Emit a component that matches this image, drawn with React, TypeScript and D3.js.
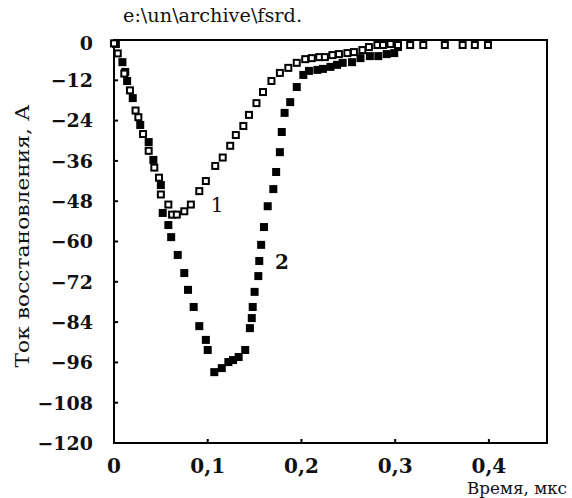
import React from 'react';
import * as d3 from 'd3';

// кривая 1 — открытые квадраты (время, мкс / ток, А)
const curve1Time = [0, 0.004, 0.011, 0.017, 0.023, 0.026, 0.031, 0.037, 0.043, 0.048, 0.05, 0.058, 0.062, 0.067, 0.075, 0.082, 0.091, 0.098, 0.108, 0.116, 0.124, 0.13, 0.138, 0.144, 0.152, 0.159, 0.168, 0.177, 0.186, 0.195, 0.204, 0.211, 0.219, 0.225, 0.233, 0.24, 0.249, 0.256, 0.265, 0.272, 0.281, 0.287, 0.295, 0.303, 0.316, 0.33, 0.353, 0.372, 0.385, 0.399];
const curve1Current = [-1, -4, -10, -15, -21, -23, -28, -33, -38, -41, -46, -49, -52, -52, -51, -49, -45, -42, -37.5, -35, -31.5, -28.3, -25.6, -22.3, -18.8, -15.5, -12.2, -9.8, -8.3, -6.8, -5.7, -5.4, -5.1, -5.1, -4.5, -4.2, -3.9, -3.6, -3, -2.1, -1.5, -1.5, -1.2, -1.5, -1.5, -1.5, -1.5, -1.5, -1.5, -1.5];

// кривая 2 — заполненные квадраты
const curve2Time = [0.002, 0.009, 0.012, 0.014, 0.02, 0.028, 0.037, 0.042, 0.05, 0.052, 0.058, 0.061, 0.068, 0.075, 0.079, 0.085, 0.091, 0.098, 0.1, 0.107, 0.115, 0.122, 0.127, 0.133, 0.14, 0.145, 0.147, 0.148, 0.15, 0.154, 0.155, 0.157, 0.16, 0.164, 0.17, 0.173, 0.177, 0.179, 0.182, 0.188, 0.195, 0.202, 0.208, 0.217, 0.223, 0.231, 0.238, 0.244, 0.254, 0.263, 0.273, 0.282, 0.291, 0.299, 0.303];
const curve2Current = [-1.2, -6.6, -9.5, -12.2, -17.3, -25.3, -30.4, -35.7, -43.2, -51.5, -55.1, -58.7, -64, -69.4, -74.4, -79.5, -85.2, -89.3, -92.3, -98.9, -97.7, -95.9, -95.3, -94.4, -92.3, -85.8, -82.8, -79.5, -75, -70.3, -65.8, -61, -55.7, -49.5, -44.4, -39.3, -33.4, -27.4, -21.7, -18.5, -14, -10.4, -9.2, -8.9, -8.6, -8.0, -7.4, -6.8, -6.6, -5.4, -4.8, -4.8, -4.2, -3.9, -2.1];

const xTicks = [0, 0.1, 0.2, 0.3, 0.4];
const yTicks = [0, -12, -24, -36, -48, -60, -72, -84, -96, -108, -120];

const title = 'e:\\un\\archive\\fsrd.';
const xTitle = 'Время, мкс';
const yTitle = 'Ток восстановления, А';

const width = 572;
const height = 498;
const plot = { left: 114, right: 547, top: 40, bottom: 443 };

const serif = '"DejaVu Serif", "Liberation Serif", serif';

const App = () => {
  const x = d3.scaleLinear().domain([0, 0.462]).range([plot.left, plot.right]);
  const y = d3.scaleLinear().domain([-120, 0]).range([plot.bottom, plot.top]);

  const s = 8; // размер маркера
  const pts1 = curve1Time.map((t, i) => [x(t), y(curve1Current[i])]);
  const pts2 = curve2Time.map((t, i) => [x(t), y(curve2Current[i])]);

  return (
    <svg width={width} height={height} style={{ position: 'absolute', left: 0, top: 0, background: '#fff' }}>
      <rect x={0} y={0} width={width} height={height} fill="#fff" />
      <text x={123} y={22} fontFamily={serif} fontSize={18} fill="#111" textLength={179}
        lengthAdjust="spacingAndGlyphs">{title}</text>

      {/* рамка */}
      <rect x={plot.left} y={plot.top} width={plot.right - plot.left} height={plot.bottom - plot.top}
        fill="none" stroke="#000" strokeWidth={2} />

      {/* деления оси Y */}
      {yTicks.map(v => (
        <g key={'y' + v}>
          <line x1={plot.left} x2={plot.left + 4} y1={y(v)} y2={y(v)} stroke="#000" strokeWidth={2} />
          <text x={93} y={y(v) + (v === 0 ? 3 : 0)} dy="0.36em" textAnchor="end" fontFamily={serif} fontWeight="bold"
            fontSize={19} fill="#111">{v === 0 ? '0' : '\u2212' + Math.abs(v)}</text>
        </g>
      ))}

      {/* деления оси X */}
      {xTicks.map(v => (
        <g key={'x' + v}>
          <line x1={x(v)} x2={x(v)} y1={plot.bottom} y2={plot.bottom - 4} stroke="#000" strokeWidth={2} />
          <text x={x(v)} y={473} textAnchor="middle" fontFamily={serif} fontWeight="bold"
            fontSize={20} fill="#111">{v === 0 ? '0' : String(v).replace('.', ',')}</text>
        </g>
      ))}

      <text x={567} y={494} textAnchor="end" fontFamily={serif} fontSize={17.5} fill="#111"
        textLength={100} lengthAdjust="spacingAndGlyphs">{xTitle}</text>
      <text transform="translate(29,236) rotate(-90)" textAnchor="middle" fontFamily={serif}
        fontSize={19} fill="#111" textLength={263} lengthAdjust="spacingAndGlyphs">{yTitle}</text>

      {/* кривая 2 */}
      {pts2.map((p, i) => (
        <rect key={'b' + i} x={p[0] - s / 2} y={p[1] - s / 2} width={s} height={s} fill="#000" />
      ))}
      {/* кривая 1 */}
      {pts1.map((p, i) => (
        <rect key={'a' + i} x={p[0] - s / 2 + 1} y={p[1] - s / 2 + 1} width={s - 2} height={s - 2}
          fill="#fff" stroke="#000" strokeWidth={2} />
      ))}

      <text x={217} y={212} textAnchor="middle" fontFamily={serif} fontSize={20} fill="#111">1</text>
      <text x={282} y={269} textAnchor="middle" fontFamily={serif} fontWeight="bold" fontSize={20} fill="#111">2</text>
    </svg>
  );
};

export default App;
